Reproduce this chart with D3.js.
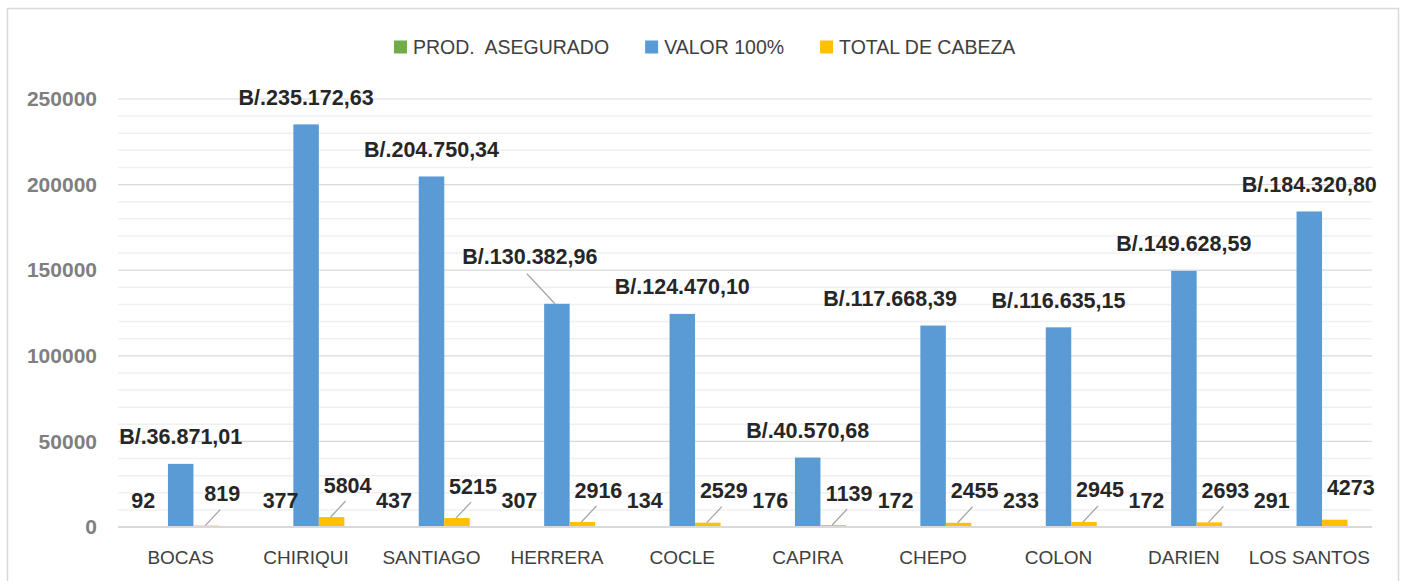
<!DOCTYPE html>
<html>
<head>
<meta charset="utf-8">
<script src="https://cdn.jsdelivr.net/npm/d3@7"></script>
<style>
  body { margin: 0; background: #ffffff; }
  svg { display: block; font-family: "Liberation Sans", Arial, sans-serif; }
</style>
</head>
<body>
<script>
// chart data
var categories = ["BOCAS", "CHIRIQUI", "SANTIAGO", "HERRERA", "COCLE", "CAPIRA", "CHEPO", "COLON", "DARIEN", "LOS SANTOS"];
var seriesNames = ["PROD.  ASEGURADO", "VALOR 100%", "TOTAL DE CABEZA"];
var prodAsegurado = [92, 377, 437, 307, 134, 176, 172, 233, 172, 291];
var valor100 = [36871.01, 235172.63, 204750.34, 130382.96, 124470.10, 40570.68, 117668.39, 116635.15, 149628.59, 184320.80];
var totalCabeza = [819, 5804, 5215, 2916, 2529, 1139, 2455, 2945, 2693, 4273];
var yTicks = [0, 50000, 100000, 150000, 200000, 250000];

var colours = ["#70AD47", "#5B9BD5", "#FFC000"];
var textcolour = "#404040";
var gridcolour = "#d9d9d9";

var width = 1405, height = 581;

var svg = d3.select("body").append("svg")
    .attr("width", width)
    .attr("height", height);

// chart border (bottom edge falls outside the picture)
svg.append("rect")
    .attr("x", 7.5).attr("y", 8.5)
    .attr("width", 1391).attr("height", 600)
    .style("fill", "#fff")
    .style("stroke", gridcolour)
    .style("stroke-width", 1.5);

var x = d3.scaleBand().domain(categories).range([118, 1372]);
var xSub = d3.scaleBand().domain(seriesNames)
    .range([x.bandwidth() * 0.195, x.bandwidth() * 0.805]);
var y = d3.scaleLinear().domain([0, 250000]).range([527, 99]);

// gridlines, minor every 10000 and major every 50000
var minor = d3.range(10000, 250001, 10000).filter(function(d) { return d % 50000 !== 0; });
svg.append("g").selectAll("line")
    .data(minor).enter().append("line")
    .attr("x1", 118).attr("x2", 1372)
    .attr("y1", function(d) { return y(d); })
    .attr("y2", function(d) { return y(d); })
    .style("stroke", "#f0f0f0")
    .style("stroke-width", 1.5);

svg.append("g").selectAll("line")
    .data(yTicks.slice(1)).enter().append("line")
    .attr("x1", 118).attr("x2", 1372)
    .attr("y1", function(d) { return y(d); })
    .attr("y2", function(d) { return y(d); })
    .style("stroke", gridcolour)
    .style("stroke-width", 1.2);

// y axis labels
var yAxis = svg.append("g")
    .attr("transform", "translate(97,0)")
    .call(d3.axisLeft(y).tickValues(yTicks).tickSize(0).tickPadding(0).tickFormat(d3.format("d")));
yAxis.select(".domain").remove();
yAxis.selectAll("text")
    .style("font-family", "'Liberation Sans', Arial, sans-serif")
    .style("font-size", "21px")
    .style("font-weight", "bold")
    .style("fill", "#7f7f7f");

// bars
var table = categories.map(function(c, i) {
    return { cat: c, values: [prodAsegurado[i], valor100[i], totalCabeza[i]] };
});

var groups = svg.append("g").selectAll("g")
    .data(table).enter().append("g")
    .attr("transform", function(d) { return "translate(" + x(d.cat) + ",0)"; });

groups.selectAll("rect")
    .data(function(d) { return d.values.map(function(v, j) { return { s: seriesNames[j], v: v, j: j }; }); })
    .enter().append("rect")
    .attr("x", function(d) { return xSub(d.s); })
    .attr("width", xSub.bandwidth())
    .attr("y", function(d) { return y(d.v); })
    .attr("height", function(d) { return y(0) - y(d.v); })
    .style("fill", function(d) { return colours[d.j]; });

// baseline
svg.append("line")
    .attr("x1", 118).attr("x2", 1372)
    .attr("y1", y(0)).attr("y2", y(0))
    .style("stroke", gridcolour)
    .style("stroke-width", 2);

// category labels
svg.append("g").selectAll("text")
    .data(categories).enter().append("text")
    .attr("x", function(d) { return x(d) + x.bandwidth() / 2; })
    .attr("y", 557)
    .attr("dy", "0.35em")
    .attr("text-anchor", "middle")
    .style("font-size", "19px")
    .style("fill", textcolour)
    .text(function(d) { return d; });

// data labels
var pa = d3.formatLocale({ decimal: ",", thousands: ".", grouping: [3], currency: ["B/.", ""] });
var money = pa.format("$,.2f");
var labels = svg.append("g")
    .style("font-size", "21.5px")
    .style("font-weight", "bold")
    .style("fill", "#262626");
var leaders = svg.append("g")
    .style("stroke", "#a6a6a6")
    .style("stroke-width", 1.3);

// hand-moved labels in the original
var blueNudge = { "HERRERA": [-27, -47], "CHEPO": [-43, -27] };

categories.forEach(function(c, i) {
    var gx = x(c);
    // green
    var cx0 = gx + xSub(seriesNames[0]) + xSub.bandwidth() / 2;
    labels.append("text")
        .attr("x", cx0 - (i === 1 ? 0 : 12))
        .attr("y", y(prodAsegurado[i]) - 26)
        .attr("dy", "0.35em")
        .attr("text-anchor", "middle")
        .text(prodAsegurado[i]);

    // blue
    var cx1 = gx + xSub(seriesNames[1]) + xSub.bandwidth() / 2;
    var top1 = y(valor100[i]);
    var n = blueNudge[c] || [0, -27];
    labels.append("text")
        .attr("x", cx1 + n[0])
        .attr("y", top1 + n[1])
        .attr("dy", "0.35em")
        .attr("text-anchor", "middle")
        .text(money(valor100[i]));
    if (c === "HERRERA") {
        leaders.append("line")
            .attr("x1", cx1 - 2).attr("y1", top1)
            .attr("x2", cx1 + n[0] - 3).attr("y2", top1 + n[1] + 17);
    }

    // yellow
    var cx2 = gx + xSub(seriesNames[2]) + xSub.bandwidth() / 2;
    var top2 = y(totalCabeza[i]);
    labels.append("text")
        .attr("x", cx2 + 16)
        .attr("y", top2 - 32)
        .attr("dy", "0.35em")
        .attr("text-anchor", "middle")
        .text(totalCabeza[i]);
    if (c !== "LOS SANTOS") {
        leaders.append("line")
            .attr("x1", cx2 - 1).attr("y1", top2)
            .attr("x2", cx2 + 14).attr("y2", top2 - 16);
    }
});

// legend
var legend = svg.append("g").attr("transform", "translate(394,47)");
var lx = 0;
seriesNames.forEach(function(s, j) {
    legend.append("rect")
        .attr("x", lx).attr("y", -6.5)
        .attr("width", 13).attr("height", 13)
        .style("fill", colours[j]);
    var t = legend.append("text")
        .attr("x", lx + 19)
        .attr("dy", "0.35em")
        .style("font-size", "19.5px")
        .style("fill", textcolour)
        .style("white-space", "pre")
        .text(s);
    lx += 19 + t.node().getComputedTextLength() + 36;
});
</script>
</body>
</html>
